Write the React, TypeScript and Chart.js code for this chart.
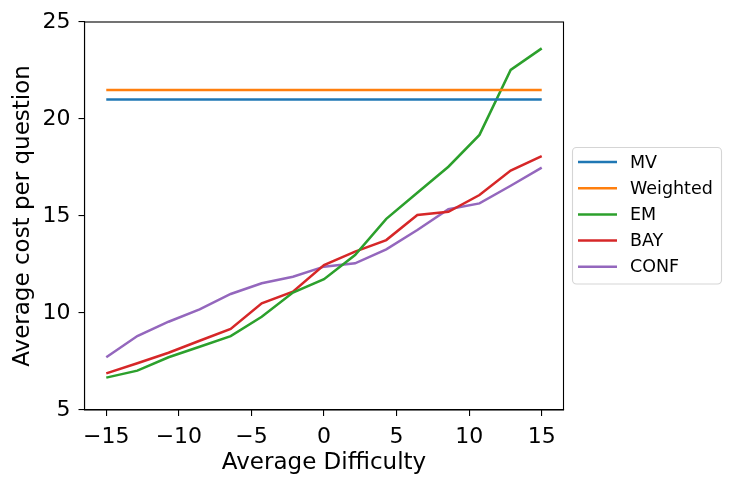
import React, { useEffect, useRef } from 'react';
import { Chart, registerables } from 'chart.js';

Chart.register(...registerables);

const difficulty = [-15, -12.86, -10.71, -8.57, -6.43, -4.29, -2.14, 0, 2.14, 4.29, 6.43, 8.57, 10.71, 12.86, 15];
const mvCost = [21.0, 21.0, 21.0, 21.0, 21.0, 21.0, 21.0, 21.0, 21.0, 21.0, 21.0, 21.0, 21.0, 21.0, 21.0];
const weightedCost = [21.5, 21.5, 21.5, 21.5, 21.5, 21.5, 21.5, 21.5, 21.5, 21.5, 21.5, 21.5, 21.5, 21.5, 21.5];
const emCost = [6.67, 7.03, 7.72, 8.26, 8.81, 9.81, 11.05, 11.74, 12.99, 14.85, 16.2, 17.54, 19.18, 22.53, 23.64];
const bayCost = [6.89, 7.41, 7.95, 8.57, 9.18, 10.5, 11.1, 12.47, 13.16, 13.76, 15.05, 15.22, 16.08, 17.34, 18.09];
const confCost = [7.72, 8.81, 9.55, 10.19, 10.98, 11.53, 11.87, 12.39, 12.56, 13.28, 14.28, 15.35, 15.65, 16.56, 17.49];

const seriesNames = ['MV', 'Weighted', 'EM', 'BAY', 'CONF'];
const seriesColors = ['#1f77b4', '#ff7f0e', '#2ca02c', '#d62728', '#9467bd'];
const seriesValues = [mvCost, weightedCost, emCost, bayCost, confCost];

const xTicks = [-15, -10, -5, 0, 5, 10, 15];
const yTicks = [5, 10, 15, 20, 25];

const FONT = 'DejaVu Sans';
const LINE_W = 2.5;

const framePlugin = {
  id: 'frame',
  afterDraw(chart: any) {
    const { ctx, chartArea } = chart;
    ctx.save();
    ctx.strokeStyle = '#000';
    ctx.lineWidth = 1.1;
    ctx.strokeRect(chartArea.left, chartArea.top, chartArea.right - chartArea.left, chartArea.bottom - chartArea.top);
    ctx.restore();
  },
};

const legendPlugin = {
  id: 'mplLegend',
  afterDraw(chart: any) {
    const { ctx } = chart;
    const bx = 572.5, by = 147.5, bw = 149, bh = 136.5, r = 4;
    ctx.save();
    ctx.beginPath();
    ctx.moveTo(bx + r, by);
    ctx.lineTo(bx + bw - r, by);
    ctx.arcTo(bx + bw, by, bx + bw, by + r, r);
    ctx.lineTo(bx + bw, by + bh - r);
    ctx.arcTo(bx + bw, by + bh, bx + bw - r, by + bh, r);
    ctx.lineTo(bx + r, by + bh);
    ctx.arcTo(bx, by + bh, bx, by + bh - r, r);
    ctx.lineTo(bx, by + r);
    ctx.arcTo(bx, by, bx + r, by, r);
    ctx.closePath();
    ctx.fillStyle = 'rgba(255,255,255,0.8)';
    ctx.fill();
    ctx.strokeStyle = '#d5d5d5';
    ctx.lineWidth = 1.1;
    ctx.stroke();
    ctx.font = `17.5px "${FONT}"`;
    ctx.textBaseline = 'middle';
    ctx.textAlign = 'left';
    chart.data.datasets.forEach((ds: any, i: number) => {
      const y = 162 + i * 26.2;
      ctx.strokeStyle = ds.borderColor;
      ctx.lineWidth = LINE_W;
      ctx.beginPath();
      ctx.moveTo(578, y);
      ctx.lineTo(617, y);
      ctx.stroke();
      ctx.fillStyle = '#000';
      ctx.fillText(ds.label, 630, y + 1);
    });
    ctx.restore();
  },
};

export default function App() {
  const ref = useRef<HTMLCanvasElement | null>(null);
  useEffect(() => {
    if (!ref.current) return;
    const chart = new Chart(ref.current, {
      type: 'line',
      data: {
        datasets: seriesNames.map((name, i) => ({
          label: name,
          data: difficulty.map((x, j) => ({ x, y: seriesValues[i][j] })),
          borderColor: seriesColors[i],
          backgroundColor: seriesColors[i],
          borderWidth: LINE_W,
          pointRadius: 0,
          tension: 0,
          fill: false,
        })),
      },
      options: {
        animation: false,
        responsive: true,
        maintainAspectRatio: false,
        layout: { padding: { left: 0, top: 22, right: 171.5, bottom: 0 } },
        plugins: { legend: { display: false }, tooltip: { enabled: false } },
        scales: {
          x: {
            type: 'linear',
            min: -16.5,
            max: 16.5,
            afterBuildTicks: (s: any) => { s.ticks = xTicks.map((v) => ({ value: v })); },
            afterFit: (s: any) => { s.height = 78; },
            ticks: {
              color: '#000',
              font: { family: FONT, size: 22 },
              padding: 8,
              maxRotation: 0,
              callback: (v: any) => String(v).replace('-', '\u2212'),
            },
            grid: { drawOnChartArea: false, tickLength: 6, color: '#000', lineWidth: 1.1 },
            border: { display: true, color: '#000', width: 1.1 },
            title: {
              display: true,
              text: 'Average Difficulty',
              color: '#000',
              font: { family: FONT, size: 23 },
              padding: { top: 0, bottom: 11.2 },
            },
          },
          y: {
            type: 'linear',
            min: 5,
            max: 25,
            afterBuildTicks: (s: any) => { s.ticks = yTicks.map((v) => ({ value: v })); },
            afterFit: (s: any) => { s.width = 84.5; },
            ticks: {
              color: '#000',
              font: { family: FONT, size: 22 },
              padding: 8,
            },
            grid: { drawOnChartArea: false, tickLength: 6, color: '#000', lineWidth: 1.1 },
            border: { display: true, color: '#000', width: 1.1 },
            title: {
              display: true,
              text: 'Average cost per question',
              color: '#000',
              font: { family: FONT, size: 23 },
              padding: { top: 9.2, bottom: 0 },
            },
          },
        },
      },
      plugins: [framePlugin, legendPlugin],
    });
    return () => chart.destroy();
  }, []);
  return (
    <div style={{ position: 'fixed', left: 0, top: 0, width: 735, height: 488, background: '#fff' }}>
      <canvas ref={ref} />
    </div>
  );
}
